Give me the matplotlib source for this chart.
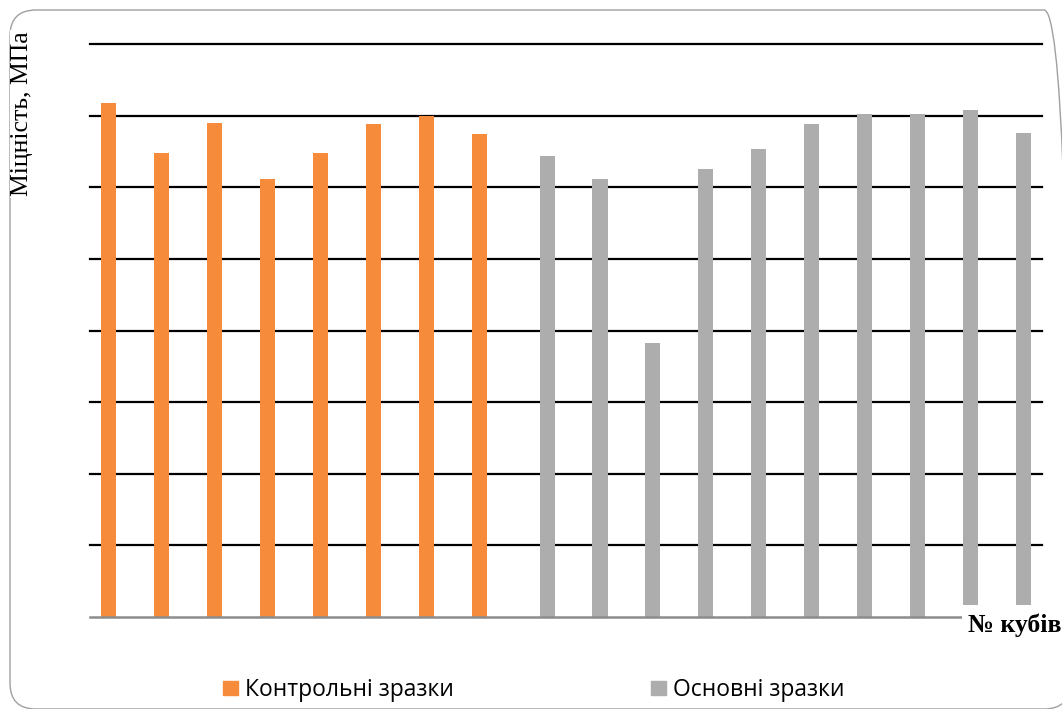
import matplotlib
matplotlib.use("Agg")
import matplotlib.pyplot as plt
from matplotlib.patches import FancyBboxPatch, Patch, Rectangle
from matplotlib.transforms import IdentityTransform
import numpy as np

control_values = [35.9, 32.4, 34.5, 30.6, 32.4, 34.4, 35.0, 33.7]
main_values = [32.2, 30.6, 19.1, 31.3, 32.7, 34.4, 35.1, 35.1, 35.4, 33.8]
series_labels = ["Контрольні зразки", "Основні зразки"]
y_label = "Міцність, МПа"
x_label = "№ кубів"
y_max = 40
y_step = 5

orange = "#F68B3C"
gray = "#ADADAD"

fig = plt.figure(figsize=(10.62, 7.09), dpi=100)
ax = fig.add_axes([90 / 1062, 1 - 617 / 709, (1042 - 90) / 1062, (617 - 44) / 709])

n_c = len(control_values)
n_m = len(main_values)
x_c = np.arange(n_c)
x_m = np.arange(n_c, n_c + n_m)
w = 0.285
ax.bar(x_c - w / 2, control_values, width=w, color=orange, zorder=3)
ax.bar(x_m + w / 2, main_values, width=w, color=gray, zorder=3)

ax.set_xlim(-0.5, n_c + n_m - 0.5)
ax.set_ylim(0, y_max)
for yv in np.arange(y_step, y_max + 0.1, y_step):
    ax.axhline(yv, color="black", lw=1.6, zorder=2, clip_on=False)
ax.axhline(0, color="#8C8C8C", lw=1.8, zorder=4, clip_on=False)
for s in ax.spines.values():
    s.set_visible(False)
ax.set_xticks([])
ax.set_yticks([])
ax.patch.set_alpha(0)

# rounded frame
frame = FancyBboxPatch((10, 0), 1060, 699, boxstyle="round,pad=0,rounding_size=26",
                       transform=IdentityTransform(), fill=False, ec="#A0A0A0", lw=1.0,
                       zorder=0)
fig.patches.append(frame)

fig.text(22 / 1062, 1 - 114 / 709, y_label, rotation=90, ha="center", va="center",
         family="Liberation Serif", fontsize=18.5,
         bbox=dict(facecolor="white", edgecolor="none", pad=1))

# white box behind the x axis title (covers the baseline end)
cover = Rectangle((962, 709 - 650), 110, 650 - 605, transform=IdentityTransform(),
                  facecolor="white", edgecolor="none", zorder=9)
fig.patches.append(cover)
fig.text(968 / 1062, 1 - 625 / 709, x_label, ha="left", va="center",
         family="Liberation Serif", fontweight="bold", fontsize=18.5, zorder=10)

handles = [Patch(color=orange), Patch(color=gray)]
fig.legend(handles, series_labels, loc="center", bbox_to_anchor=(0.5024, 1 - 690 / 709),
           ncol=2, frameon=False, handlelength=0.65, handleheight=0.62, handletextpad=0.3,
           columnspacing=8.6, prop=dict(family="Open Sans", size=16.5))

fig.savefig("out.png", dpi=100)
